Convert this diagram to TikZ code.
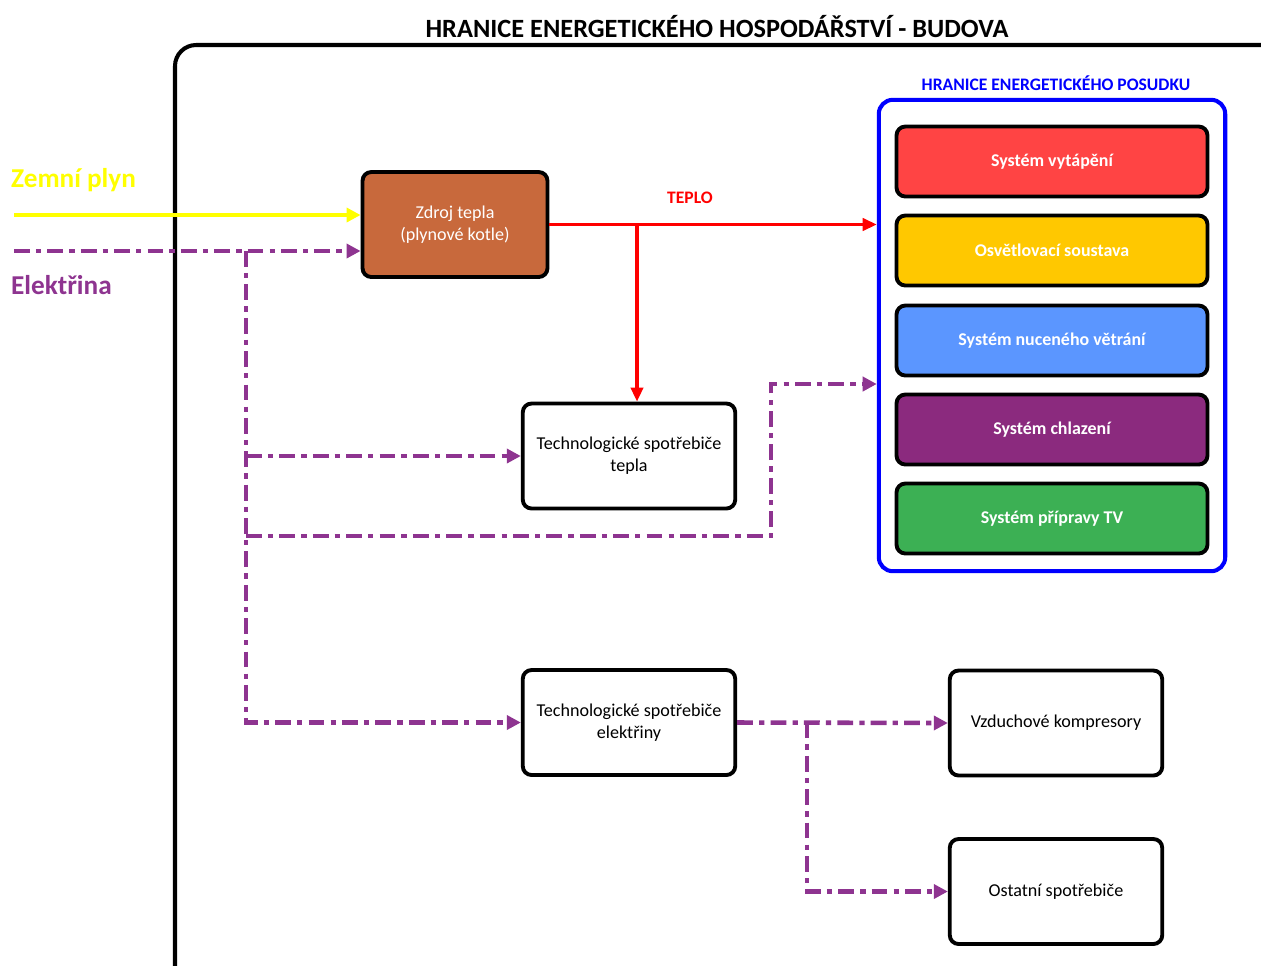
\documentclass[tikz,border=0pt]{standalone}
\usepackage{fontspec}
\setmainfont{Carlito}
\usepackage{tikz}
\usetikzlibrary{arrows.meta}

\definecolor{plyn}{HTML}{FFFF00}
\definecolor{elektro}{HTML}{8E3490}
\definecolor{teplo}{HTML}{FF0000}
\definecolor{kotel}{HTML}{C8693C}
\definecolor{vytapeni}{HTML}{FF4444}
\definecolor{osvetleni}{HTML}{FFC800}
\definecolor{vetrani}{HTML}{5B96FF}
\definecolor{chlazeni}{HTML}{8B2A7E}
\definecolor{pripravatv}{HTML}{3CB054}

\tikzset{
	blok/.style={draw=black, line width=2.2pt, rounded corners=5pt, minimum width=4.25cm, minimum height=2.1cm, align=center, font=\fontsize{10.3}{12.5}\selectfont},
	system/.style={draw=black, line width=2.2pt, rounded corners=5pt, minimum width=6.22cm, minimum height=1.4cm, text=white, font=\fontsize{10.2}{12}\selectfont\bfseries},
	elvedeni/.style={draw=elektro, line width=2.6pt, dash pattern=on 9pt off 3.5pt on 3pt off 3.5pt, -{Triangle[length=8pt,width=8pt]}},
	plynvedeni/.style={draw=plyn, line width=2.2pt, -{Triangle[length=8pt,width=8pt]}},
	teplovedeni/.style={draw=teplo, line width=1.8pt, -{Triangle[length=8pt,width=7pt]}}
}

\begin{document}
\begin{tikzpicture}[x=0.02cm,y=-0.02cm]
					\useasboundingbox (0,0) rectangle (1261,965);
					% Boundary of the building
					\draw[line width=2.3pt, rounded corners=12pt] (175,975) -- (175,45) -- (1275,45);
					\node[font=\fontsize{15}{17}\selectfont\bfseries] (titul) at (717,27) {HRANICE ENERGETICKÉHO HOSPODÁŘSTVÍ - BUDOVA};
					% Boundary of the assessment
					\node[draw=blue, line width=2.3pt, rounded corners=8pt, minimum width=6.93cm, minimum height=9.43cm] (posudek) at (1052,335.5) {};
					\node[text=blue, font=\fontsize{10}{12}\selectfont\bfseries] (posudeklabel) at (1056,83) {HRANICE ENERGETICKÉHO POSUDKU};
					% Systems inside the assessment
					\foreach \jmeno/\y/\barva/\popis in {vyt/161.5/vytapeni/Systém vytápění, osv/250.5/osvetleni/Osvětlovací soustava, vet/340.5/vetrani/Systém nuceného větrání, chl/429.5/chlazeni/Systém chlazení, tv/518.5/pripravatv/Systém přípravy TV}
						\node[system, fill=\barva] (\jmeno) at (1052,\y) {\popis};
					% Source and consumers
					\node[blok, fill=kotel, text=white, minimum width=3.7cm] (zdroj) at (455,224.5) {Zdroj tepla\\(plynové kotle)};
					\node[blok] (techt) at (629,456) {Technologické spotřebiče\\tepla};
					\node[blok] (teche) at (629,722.5) {Technologické spotřebiče\\elektřiny};
					\node[blok] (komp) at (1056,723) {Vzduchové kompresory};
					\node[blok] (ostatni) at (1056,891.5) {Ostatní spotřebiče};
					% Inputs
					\node[text=plyn, anchor=west, font=\fontsize{15.5}{17}\selectfont\bfseries] (plynlabel) at (5,180) {Zemní plyn};
					\node[text=elektro, anchor=west, font=\fontsize{15.5}{17}\selectfont\bfseries] (ellabel) at (5,285) {Elektřina};
					\node[text=teplo, font=\fontsize{10}{12}\selectfont\bfseries] (teplolabel) at (690,198) {TEPLO};
					\coordinate (plynvstup) at (14,215);
					\coordinate (elvstup) at (14,251);
					\coordinate (eluzel) at (246,251);
					\coordinate (teplouzel) at (637,224.5);
					\coordinate (elodbocka) at (246,536);
					\coordinate (elohyb) at (771,536);
					\coordinate (elposudek) at (posudek.west |- 0,384);
					\coordinate (kompuzel) at (807,722.5);
					% Gas and electricity
					\draw[plynvedeni] (plynvstup) -- (plynvstup -| zdroj.west);
					\draw[elvedeni] (elvstup) -- (elvstup -| zdroj.west);
					\draw[elvedeni] (eluzel) |- (teche.west);
					\draw[elvedeni] (eluzel |- techt.west) -- (techt.west);
					\draw[elvedeni] (elodbocka) -- (elohyb) |- (elposudek);
					\draw[elvedeni] (teche.east) -- (komp.west);
					\draw[elvedeni] (kompuzel) |- (ostatni.west);
					% Heat
					\draw[teplovedeni] (zdroj.east) -- (posudek.west |- zdroj.east);
					\draw[teplovedeni] (teplouzel) -- (teplouzel |- techt.north);
				\end{tikzpicture}
\end{document}
